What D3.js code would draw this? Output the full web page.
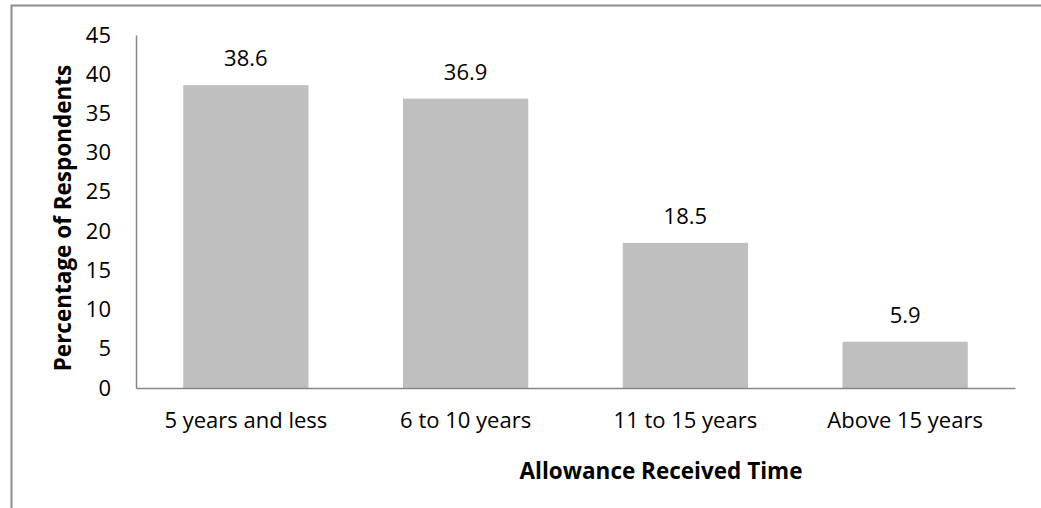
<!DOCTYPE html>
<html>
<head>
<meta charset="utf-8">
<script src="https://cdn.jsdelivr.net/npm/d3@7"></script>
<style>
body{margin:0;background:#fff;}
text{font-family:"Open Sans",sans-serif;fill:#000;}
</style>
</head>
<body>
<svg id="display" width="1041" height="508"></svg>
<script>
// chart data
const categories=["5 years and less","6 to 10 years","11 to 15 years","Above 15 years"];
const values=[38.6,36.9,18.5,5.9];
const y_ticks=[0,5,10,15,20,25,30,35,40,45];

const display=d3.select("#display");
const plot_left=136, plot_right=1015, plot_top=35, plot_bottom=388;
const font="'Open Sans',sans-serif";

// outer frame (top and left visible)
display.append("path")
    .attr("d","M11.5,508 L11.5,5.5 L1041,5.5")
    .attr("fill","none")
    .attr("stroke","#8c8c8c")
    .attr("stroke-width",2);

const x=d3.scaleBand().domain(categories).range([plot_left,plot_right]).paddingInner(0.43).paddingOuter(0.215);
const y=d3.scaleLinear().domain([0,45]).range([plot_bottom,plot_top]);

// bars
display.selectAll(".bar").data(values).enter().append("rect")
    .attr("class","bar")
    .attr("x",(d,i)=>x(categories[i]))
    .attr("y",d=>y(d))
    .attr("width",x.bandwidth())
    .attr("height",d=>y(0)-y(d))
    .attr("fill","#bfbfbf");

// value labels
display.selectAll(".val").data(values).enter().append("text")
    .attr("class","val")
    .attr("x",(d,i)=>x(categories[i])+x.bandwidth()/2)
    .attr("y",d=>y(d)-19)
    .style("font-size","22px")
    .style("text-anchor","middle")
    .text(d=>d.toFixed(1));

// y axis
const y_axis=display.append("g")
    .attr("transform","translate("+plot_left+",0)")
    .call(d3.axisLeft(y).tickValues(y_ticks).tickSize(0).tickPadding(25));
y_axis.select(".domain").attr("stroke","#868686").attr("stroke-width",1.5);
y_axis.selectAll("text").style("font-size","22px").style("font-family",font).attr("fill","#000");

// x axis
const x_axis=display.append("g")
    .attr("transform","translate(0,"+plot_bottom+")")
    .call(d3.axisBottom(x).tickSize(0).tickPadding(24));
x_axis.select(".domain").attr("stroke","#868686").attr("stroke-width",1.5);
x_axis.selectAll("text").style("font-size","22px").style("font-family",font).attr("fill","#000");

// axis titles
display.append("text")
    .attr("x",661)
    .attr("y",479)
    .style("font-size","22.5px")
    .style("font-weight","bold")
    .style("text-anchor","middle")
    .text("Allowance Received Time");

display.append("text")
    .attr("transform","translate(71,218) rotate(-90)")
    .style("font-size","22.5px")
    .style("font-weight","bold")
    .style("text-anchor","middle")
    .text("Percentage of Respondents");
</script>
</body>
</html>
